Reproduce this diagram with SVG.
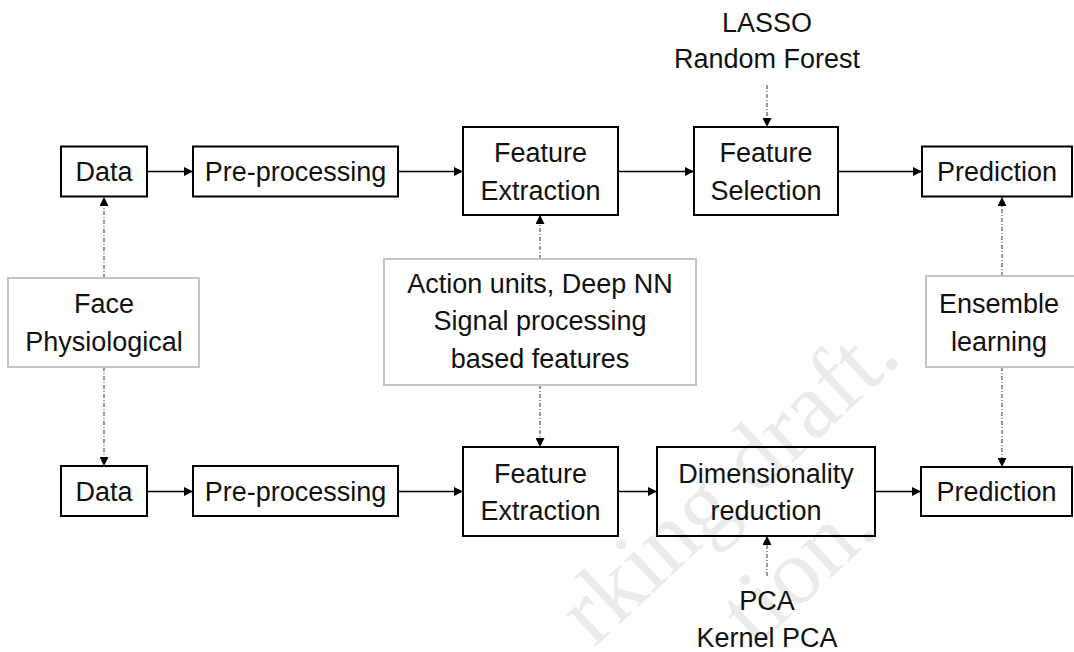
<svg xmlns="http://www.w3.org/2000/svg" width="1074" height="652" viewBox="0 0 1074 652">
  <defs>
    <style>
      .box { fill: none; stroke: #000; stroke-width: 2; }
      .note { fill: none; stroke: #c4c4c4; stroke-width: 2; }
      .t { font-family: "Liberation Sans", Arial, sans-serif; font-size: 27px; fill: #111; text-anchor: middle; }
      .solid { stroke: #000; stroke-width: 1.3; fill: none; marker-end: url(#ah); }
      .dash { stroke: #555; stroke-width: 1.2; fill: none; stroke-dasharray: 4 2 1 2; marker-end: url(#ah); }
      .wm { font-family: "Liberation Serif", "Times New Roman", serif; font-size: 94px; fill: #ebebeb; }
    </style>
    <marker id="ah" viewBox="0 0 10 10" refX="10" refY="5" markerWidth="9" markerHeight="9" markerUnits="userSpaceOnUse" orient="auto">
      <path d="M0,0 L10,5 L0,10 z" fill="#000"/>
    </marker>
  </defs>
  <rect width="1074" height="652" fill="#fff"/>

  <g id="watermark">
    <text class="wm" transform="translate(594,648) rotate(-43)">rking draft.</text>
    <text class="wm" transform="translate(756,648) rotate(-43)">tion.</text>
  </g>

  <g id="connectors">
    <line class="solid" x1="147" y1="171.5" x2="193" y2="171.5"/>
    <line class="solid" x1="398" y1="171.5" x2="463" y2="171.5"/>
    <line class="solid" x1="618" y1="171.5" x2="694" y2="171.5"/>
    <line class="solid" x1="838" y1="171.5" x2="922" y2="171.5"/>
    <line class="solid" x1="147" y1="491.5" x2="193" y2="491.5"/>
    <line class="solid" x1="398" y1="491.5" x2="463" y2="491.5"/>
    <line class="solid" x1="618" y1="491.5" x2="657" y2="491.5"/>
    <line class="solid" x1="875" y1="491.5" x2="921" y2="491.5"/>
    <line class="dash" x1="767" y1="85" x2="767" y2="127"/>
    <line class="dash" x1="767" y1="576" x2="767" y2="536"/>
    <line class="dash" x1="104" y1="278" x2="104" y2="197"/>
    <line class="dash" x1="104" y1="367" x2="104" y2="466"/>
    <line class="dash" x1="540" y1="259" x2="540" y2="215"/>
    <line class="dash" x1="540" y1="385" x2="540" y2="447"/>
    <line class="dash" x1="1002" y1="276" x2="1002" y2="197"/>
    <line class="dash" x1="1002" y1="367" x2="1002" y2="467"/>
  </g>

  <g id="data-top">
    <rect class="box" x="61" y="146.5" width="86" height="50"/>
    <text class="t" x="104" y="181">Data</text>
  </g>
  <g id="preprocessing-top">
    <rect class="box" x="193" y="146.5" width="205" height="50"/>
    <text class="t" x="295.5" y="181">Pre-processing</text>
  </g>
  <g id="feature-extraction-top">
    <rect class="box" x="463" y="127" width="155" height="88"/>
    <text class="t" x="540.5" y="162">Feature</text>
    <text class="t" x="540.5" y="200">Extraction</text>
  </g>
  <g id="feature-selection">
    <rect class="box" x="694" y="127" width="144" height="88"/>
    <text class="t" x="766" y="162">Feature</text>
    <text class="t" x="766" y="200">Selection</text>
  </g>
  <g id="prediction-top">
    <rect class="box" x="922" y="146.5" width="150" height="50"/>
    <text class="t" x="997" y="181">Prediction</text>
  </g>

  <g id="lasso-label">
    <text class="t" x="767" y="32">LASSO</text>
    <text class="t" x="767" y="68">Random Forest</text>
  </g>

  <g id="face-physiological">
    <rect class="note" x="8" y="278" width="191" height="89"/>
    <text class="t" x="104" y="313">Face</text>
    <text class="t" x="104" y="351">Physiological</text>
  </g>
  <g id="feature-methods">
    <rect class="note" x="384" y="259" width="312" height="126"/>
    <text class="t" x="540" y="293">Action units, Deep NN</text>
    <text class="t" x="540" y="330">Signal processing</text>
    <text class="t" x="540" y="368">based features</text>
  </g>
  <g id="ensemble-learning">
    <rect class="note" x="926" y="276" width="160" height="91"/>
    <text class="t" x="999" y="313">Ensemble</text>
    <text class="t" x="999" y="351">learning</text>
  </g>

  <g id="data-bottom">
    <rect class="box" x="61" y="466" width="86" height="50"/>
    <text class="t" x="104" y="501">Data</text>
  </g>
  <g id="preprocessing-bottom">
    <rect class="box" x="193" y="466" width="205" height="50"/>
    <text class="t" x="295.5" y="501">Pre-processing</text>
  </g>
  <g id="feature-extraction-bottom">
    <rect class="box" x="463" y="447" width="155" height="89"/>
    <text class="t" x="540.5" y="483">Feature</text>
    <text class="t" x="540.5" y="520">Extraction</text>
  </g>
  <g id="dimensionality-reduction">
    <rect class="box" x="657" y="447" width="218" height="89"/>
    <text class="t" x="766" y="483">Dimensionality</text>
    <text class="t" x="766" y="520">reduction</text>
  </g>
  <g id="prediction-bottom">
    <rect class="box" x="921" y="467" width="151" height="49"/>
    <text class="t" x="996.5" y="501">Prediction</text>
  </g>

  <g id="pca-label">
    <text class="t" x="767" y="610">PCA</text>
    <text class="t" x="767" y="647">Kernel PCA</text>
  </g>
</svg>
